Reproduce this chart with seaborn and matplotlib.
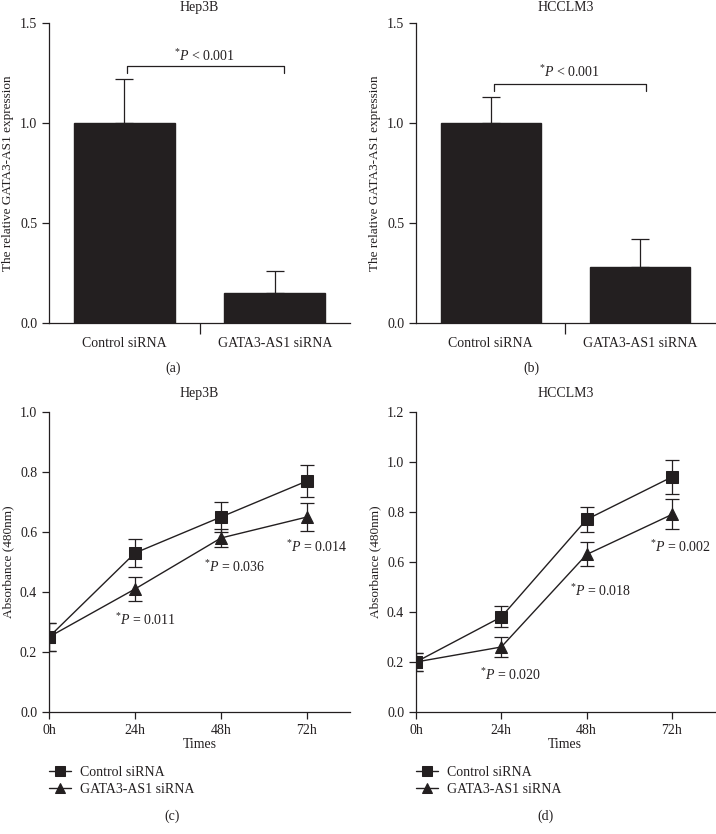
import matplotlib

matplotlib.use("Agg")
import matplotlib.pyplot as plt
import numpy as np
import pandas as pd
import seaborn as sns

# ---- data ----
groups = ["Control siRNA", "GATA3-AS1 siRNA"]
hep3b_expr = [1.0, 0.15]
hep3b_expr_err = [0.22, 0.11]
hcclm3_expr = [1.0, 0.28]
hcclm3_expr_err = [0.13, 0.14]

times = ["0h", "24h", "48h", "72h"]
hep3b_ctrl = [0.25, 0.53, 0.65, 0.77]
hep3b_ctrl_err = [0.046, 0.047, 0.05, 0.052]
hep3b_gata = [0.25, 0.41, 0.58, 0.65]
hep3b_gata_err = [0.046, 0.04, 0.03, 0.048]
hcclm3_ctrl = [0.20, 0.38, 0.77, 0.94]
hcclm3_ctrl_err = [0.035, 0.042, 0.05, 0.069]
hcclm3_gata = [0.20, 0.26, 0.63, 0.79]
hcclm3_gata_err = [0.035, 0.04, 0.048, 0.06]

hep3b_pvals = ["0.011", "0.036", "0.014"]
hcclm3_pvals = ["0.020", "0.018", "0.002"]

DARK = "#231f20"

sns.set_style("ticks")
plt.rcParams["font.family"] = ["Liberation Serif", "DejaVu Serif"]
plt.rcParams["mathtext.fontset"] = "custom"
plt.rcParams["mathtext.rm"] = "Liberation Serif"
plt.rcParams["mathtext.it"] = "Liberation Serif:italic"
plt.rcParams["font.size"] = 10
plt.rcParams["axes.linewidth"] = 0.9
plt.rcParams["xtick.major.width"] = 0.9
plt.rcParams["ytick.major.width"] = 0.9
plt.rcParams["xtick.minor.width"] = 0.9
plt.rcParams["xtick.major.size"] = 5
plt.rcParams["ytick.major.size"] = 5
plt.rcParams["xtick.color"] = DARK
plt.rcParams["ytick.color"] = DARK
plt.rcParams["text.color"] = DARK
plt.rcParams["axes.labelcolor"] = DARK
plt.rcParams["axes.edgecolor"] = DARK

fig = plt.figure(figsize=(7.16, 8.34), dpi=100)
ax_a = fig.add_axes([0.0684, 0.6127, 0.4205, 0.3597])
ax_b = fig.add_axes([0.581, 0.6127, 0.417, 0.3597])
ax_c = fig.add_axes([0.0684, 0.1463, 0.4205, 0.3597])
ax_d = fig.add_axes([0.581, 0.1463, 0.417, 0.3597])


def bar_panel(ax, vals, errs, title, bracket_y, ptxt_y, bx):
    df = pd.DataFrame({"group": groups, "value": vals})
    sns.barplot(data=df, x="group", y="value", ax=ax, color=DARK, saturation=1,
                width=0.67, errorbar=None, edgecolor=DARK)
    ax.errorbar([0, 1], vals, yerr=[np.zeros(2), errs], fmt="none",
                ecolor=DARK, elinewidth=0.9, capsize=6.5, capthick=0.9)
    ax.set_xlim(-0.5, 1.5)
    ax.set_ylim(0, 1.5)
    ax.set_yticks([0, 0.5, 1.0, 1.5])
    ax.set_yticklabels(["0.0", "0.5", "1.0", "1.5"])
    ax.tick_params(axis="x", which="major", length=0, pad=10)
    ax.set_xticks([0.5], minor=True)
    ax.tick_params(axis="x", which="minor", length=8)
    ax.set_xlabel("")
    ax.set_ylabel("The relative GATA3-AS1 expression", labelpad=4, fontsize=9.5)
    ax.set_title(title, fontsize=10, pad=9)
    sns.despine(ax=ax)
    ax.plot([bx[0], bx[0], bx[1], bx[1]],
            [bracket_y - 0.035, bracket_y, bracket_y, bracket_y - 0.035],
            color=DARK, lw=0.9)
    ax.text(0.53, ptxt_y, r"$^{*}P$ < 0.001", ha="center", va="center")


bar_panel(ax_a, hep3b_expr, hep3b_expr_err, "Hep3B", 1.285, 1.335, (0.02, 1.06))
bar_panel(ax_b, hcclm3_expr, hcclm3_expr_err, "HCCLM3", 1.195, 1.255, (0.02, 1.04))


def line_panel(ax, ctrl, ctrl_err, gata, gata_err, ymax, yticks, title, pvals, ppos):
    x = np.arange(len(times))
    df = pd.DataFrame({
        "t": np.concatenate([x, x]),
        "v": ctrl + gata,
        "grp": [groups[0]] * 4 + [groups[1]] * 4,
    })
    sns.lineplot(data=df, x="t", y="v", hue="grp", style="grp",
                 markers=["s", "^"], dashes=False, palette=[DARK, DARK],
                 markersize=9, markeredgecolor=DARK, linewidth=1, ax=ax)
    ax.errorbar(x, ctrl, yerr=ctrl_err, fmt="none", ecolor=DARK,
                elinewidth=0.9, capsize=5, capthick=0.9)
    ax.errorbar(x, gata, yerr=gata_err, fmt="none", ecolor=DARK,
                elinewidth=0.9, capsize=5, capthick=0.9)
    ax.set_xlim(0, 3.5)
    ax.set_ylim(0, ymax)
    ax.set_xticks(x)
    ax.set_xticklabels(times)
    ax.set_yticks(yticks)
    ax.set_yticklabels([f"{t:.1f}" for t in yticks])
    ax.set_xlabel("Times", labelpad=1)
    ax.set_ylabel("Absorbance (480nm)", labelpad=4, fontsize=9.5)
    ax.set_title(title, fontsize=10, pad=11)
    sns.despine(ax=ax)
    for p, (px, py) in zip(pvals, ppos):
        ax.text(px, py, r"$^{*}P$ = " + p, ha="center", va="center")
    handles, labels = ax.get_legend_handles_labels()
    for h in handles:
        h.set_markersize(7)
    ax.legend(handles, labels, loc="upper left", bbox_to_anchor=(0.0, -0.18),
              frameon=False, borderpad=0, borderaxespad=0, handlelength=1.6,
              handletextpad=0.6, labelspacing=0.3, fontsize=10)


line_panel(ax_c, hep3b_ctrl, hep3b_ctrl_err, hep3b_gata, hep3b_gata_err,
           1.0, [0, 0.2, 0.4, 0.6, 0.8, 1.0], "Hep3B", hep3b_pvals,
           [(1.12, 0.308), (2.16, 0.482), (3.11, 0.549)])
line_panel(ax_d, hcclm3_ctrl, hcclm3_ctrl_err, hcclm3_gata, hcclm3_gata_err,
           1.2, [0, 0.2, 0.4, 0.6, 0.8, 1.0, 1.2], "HCCLM3", hcclm3_pvals,
           [(1.11, 0.146), (2.16, 0.483), (3.10, 0.66)])

for lbl, x, y in [("(a)", 173, 368), ("(b)", 531, 368), ("(c)", 172, 816), ("(d)", 546, 816)]:
    fig.text(x / 716, 1 - y / 834, lbl, ha="center", va="center")

fig.savefig("out.png", dpi=100)
